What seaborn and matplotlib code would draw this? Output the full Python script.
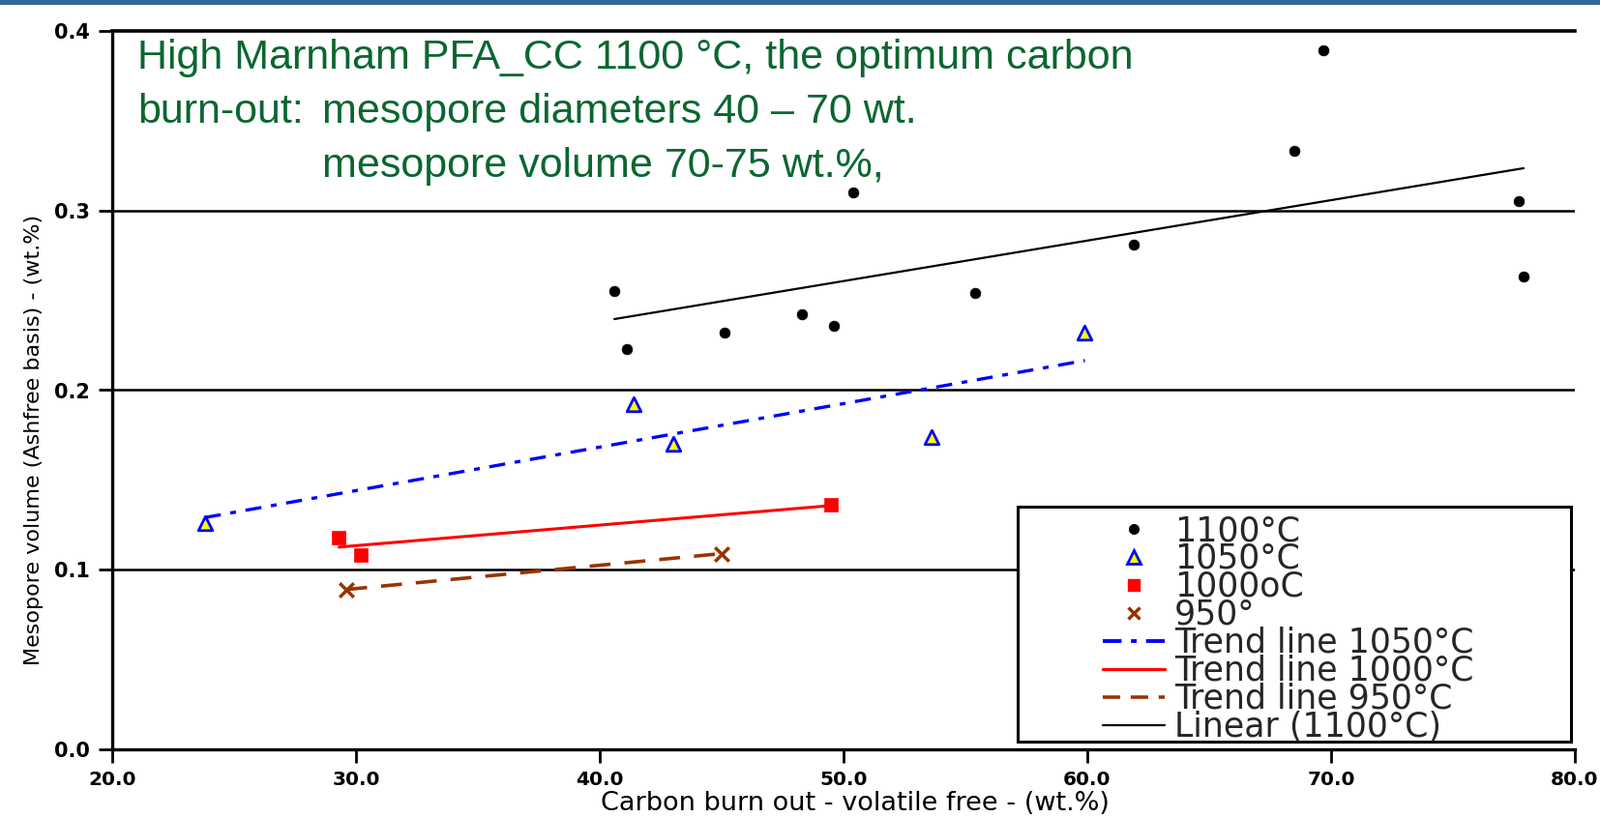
import numpy as np
import pandas as pd
import matplotlib
matplotlib.use("Agg")
import matplotlib.pyplot as plt
import seaborn as sns
from matplotlib import font_manager as fm
from matplotlib.lines import Line2D
from matplotlib.patches import Rectangle

# ---------------- data ----------------
x_1100 = [40.6, 41.1, 45.1, 48.3, 49.6, 50.4, 55.4, 61.9, 68.5, 69.7, 77.7, 77.9]
y_1100 = [0.255, 0.223, 0.232, 0.242, 0.236, 0.310, 0.254, 0.281, 0.333, 0.389, 0.305, 0.263]
x_1050 = [23.8, 41.4, 43.0, 53.6, 59.9]
y_1050 = [0.126, 0.192, 0.170, 0.174, 0.232]
x_1000 = [29.3, 30.2, 49.5]
y_1000 = [0.118, 0.108, 0.136]
x_950 = [29.6, 45.0]
y_950 = [0.089, 0.109]

x_ticks = [20, 30, 40, 50, 60, 70, 80]
x_tick_labels = ["20.0", "30.0", "40.0", "50.0", "60.0", "70.0", "80.0"]
y_ticks = [0.0, 0.1, 0.2, 0.3, 0.4]
y_tick_labels = ["0.0", "0.1", "0.2", "0.3", "0.4"]

scatter_labels = ["1100°C", "1050°C", "1000oC", "950°"]
trend_labels = ["Trend line 1050°C", "Trend line 1000°C", "Trend line 950°C", "Linear (1100°C)"]

x_label = "Carbon burn out - volatile free - (wt.%)"
y_label = "Mesopore volume (Ashfree basis) - (wt.%)"
note_line1 = "High Marnham PFA_CC 1100 °C, the optimum carbon"
note_line2a = "burn-out:"
note_line2b = "mesopore diameters 40 – 70 wt."
note_line3 = "mesopore volume 70-75 wt.%,"

# ---------------- fonts ----------------
available = {f.name for f in fm.fontManager.ttflist}
narrow = "Liberation Sans Narrow" if "Liberation Sans Narrow" in available else "DejaVu Sans"
arial = "Liberation Sans" if "Liberation Sans" in available else "DejaVu Sans"

sns.set_theme(style="white")
plt.rcParams["font.family"] = ["DejaVu Sans"]

W, H = 1654, 846
fig = plt.figure(figsize=(W / 100, H / 100), dpi=100)
ax = fig.add_axes([116 / W, 1 - 775 / H, (1628 - 116) / W, (775 - 32) / H])

# top blue strip
fig.patches.append(Rectangle((0, 1 - 5 / H), 1, 5 / H, transform=fig.transFigure,
                             facecolor="#336699", edgecolor="none", zorder=0))

# ---------------- data frames ----------------
d1100 = pd.DataFrame({"x": x_1100, "y": y_1100})
d1050 = pd.DataFrame({"x": x_1050, "y": y_1050})
d1000 = pd.DataFrame({"x": x_1000, "y": y_1000})
d950 = pd.DataFrame({"x": x_950, "y": y_950})

blue = "#0000ff"
red = "#ff0000"
brown = "#993300"

# trend lines (least squares fits via seaborn)
sns.regplot(data=d1050, x="x", y="y", ax=ax, scatter=False, ci=None, truncate=True,
            line_kws=dict(color=blue, lw=2.4, dashes=(5, 3, 1.8, 3), zorder=3))
sns.regplot(data=d1000, x="x", y="y", ax=ax, scatter=False, ci=None, truncate=True,
            line_kws=dict(color=red, lw=2.2, zorder=3))
sns.regplot(data=d950, x="x", y="y", ax=ax, scatter=False, ci=None, truncate=True,
            line_kws=dict(color=brown, lw=2.6, dashes=(6, 4), zorder=3))
sns.regplot(data=d1100, x="x", y="y", ax=ax, scatter=False, ci=None, truncate=True,
            line_kws=dict(color="black", lw=1.6, zorder=3))

# scatter points
sns.scatterplot(data=d1100, x="x", y="y", ax=ax, marker="o", s=60, color="black",
                edgecolor="black", linewidth=0.5, zorder=5, legend=False)
sns.scatterplot(data=d1050, x="x", y="y", ax=ax, marker="^", s=110, color="#ffff00",
                edgecolor=blue, linewidth=2.0, zorder=5, legend=False)
sns.scatterplot(data=d1000, x="x", y="y", ax=ax, marker="s", s=110, color=red,
                edgecolor=red, linewidth=0.5, zorder=5, legend=False)
sns.scatterplot(data=d950, x="x", y="y", ax=ax, marker="x", s=110, color=brown,
                linewidth=2.5, zorder=5, legend=False)

# ---------------- axes styling ----------------
ax.set_xlabel("")
ax.set_ylabel("")
ax.set_xlim(x_ticks[0], x_ticks[-1])
ax.set_ylim(y_ticks[0], y_ticks[-1])
ax.tick_params(axis="both", which="major", direction="out", length=10, width=2,
               color="black", labelcolor="black", bottom=True, left=True)
ax.tick_params(axis="x", pad=6)
ax.tick_params(axis="y", pad=7)
ax.set_xticks(x_ticks)
ax.set_xticklabels(x_tick_labels)
ax.set_yticks(y_ticks)
ax.set_yticklabels(y_tick_labels)
for lab in ax.get_xticklabels():
    lab.set_fontweight("heavy")
    lab.set_fontsize(14.5)
    lab.set_family(["DejaVu Sans"])
for lab in ax.get_yticklabels():
    lab.set_fontweight("heavy")
    lab.set_fontsize(15)
    lab.set_family(["DejaVu Sans"])

for s in ["left", "bottom", "top"]:
    ax.spines[s].set_visible(True)
    ax.spines[s].set_color("black")
ax.spines["left"].set_linewidth(2.4)
ax.spines["bottom"].set_linewidth(2.4)
ax.spines["top"].set_linewidth(2.6)
ax.spines["right"].set_visible(False)

for yv in y_ticks[1:-1]:
    ax.axhline(yv, color="black", lw=1.8, zorder=1)
ax.grid(False)
ax.set_facecolor("white")

# axis labels
fig.text(884 / W, 1 - 831 / H, x_label, ha="center", va="center", fontsize=19.5,
         family=[narrow, "DejaVu Sans"], color="black")
fig.text(35 / W, 1 - 455 / H, y_label, ha="center", va="center", rotation=90,
         fontsize=16, family=[narrow, "DejaVu Sans"], color="black")

# annotation
green = "#0b6630"
fig.text(142 / W, 1 - 60 / H, note_line1, ha="left", va="center", fontsize=31,
         family=[arial, "DejaVu Sans"], color=green)
fig.text(142 / W, 1 - 116 / H, note_line2a, ha="left", va="center", fontsize=31,
         family=[arial, "DejaVu Sans"], color=green)
fig.text(333 / W, 1 - 116 / H, note_line2b, ha="left", va="center", fontsize=31,
         family=[arial, "DejaVu Sans"], color=green)
fig.text(333 / W, 1 - 172 / H, note_line3, ha="left", va="center", fontsize=31,
         family=[arial, "DejaVu Sans"], color=green)

# ---------------- legend ----------------
box = Rectangle((1052 / W, 1 - 767 / H), (1624 - 1052) / W, (767 - 524) / H,
                transform=fig.transFigure, facecolor="white", edgecolor="black",
                lw=2.2, zorder=6)
fig.patches.append(box)

handles = [
    Line2D([], [], ls="none", marker="o", ms=7, color="black"),
    Line2D([], [], ls="none", marker="^", ms=10, mfc="#ffff00", mec=blue, mew=2),
    Line2D([], [], ls="none", marker="s", ms=9, color=red),
    Line2D([], [], ls="none", marker="x", ms=9, color=brown, mew=2.5),
    Line2D([], [], color=blue, lw=2.8, dashes=(5, 2.5, 1.5, 2.5)),
    Line2D([], [], color=red, lw=2.4),
    Line2D([], [], color=brown, lw=2.6, dashes=(5, 3)),
    Line2D([], [], color="black", lw=1.6),
]
labels = scatter_labels + trend_labels
leg = fig.legend(handles, labels, loc="upper left",
                 bbox_to_anchor=(1140 / W, 1 - 532 / H), bbox_transform=fig.transFigure,
                 frameon=False, handlelength=1.85, handletextpad=0.28,
                 labelspacing=-0.145, borderpad=0, borderaxespad=0,
                 prop={"family": ["DejaVu Sans"], "size": 25})
leg.set_zorder(7)

fig.savefig("out.png", dpi=100, facecolor="white")
